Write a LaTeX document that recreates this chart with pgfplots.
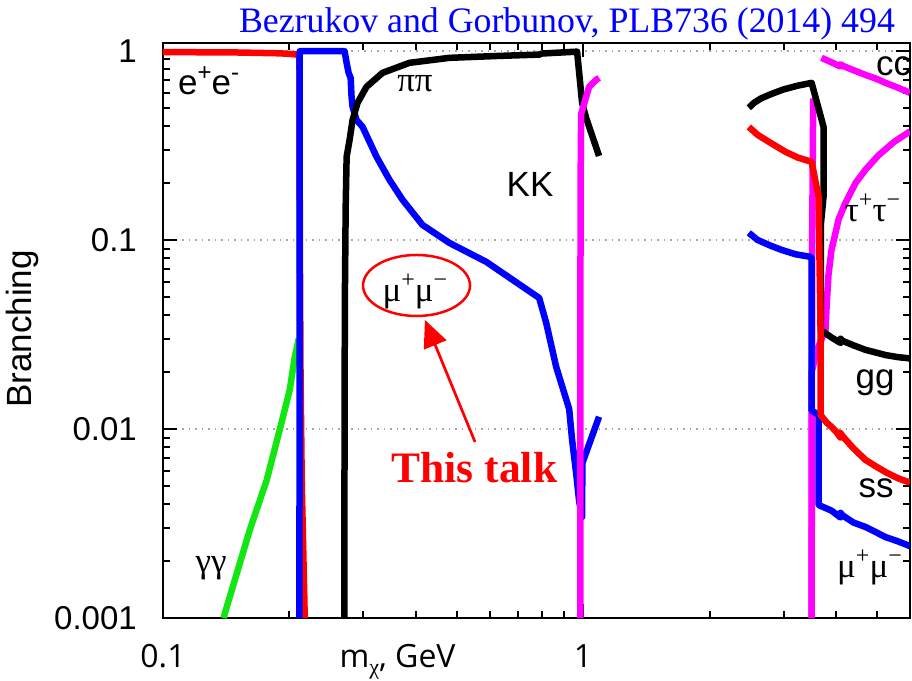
\documentclass[border=0pt]{standalone}
\usepackage{pgfplots}
\pgfplotsset{compat=1.18}
\usetikzlibrary{arrows.meta}
\usepackage{fontspec}
\setmainfont{Liberation Sans}
\newfontfamily\serif{Liberation Serif}
\newfontfamily\osans{Open Sans}

\definecolor{lgreen}{RGB}{20,230,20}
\definecolor{mag}{RGB}{255,0,255}
\definecolor{red}{RGB}{255,0,0}
\definecolor{blue}{RGB}{0,0,255}
\newcommand{\sps}[1]{\raisebox{0.4em}{\fontsize{24}{24}\selectfont #1}}
\newcommand{\lbl}{\fontsize{35}{40}\selectfont}

\pgfplotsset{cv/.style={no marks, line width=6.5pt, line join=round}}

\begin{document}
\begin{tikzpicture}
\begin{axis}[
  xmode=log, ymode=log,
  scale only axis, width=747pt, height=575pt,
  xmin=0.1, xmax=6, ymin=0.001, ymax=1.1,
  clip mode=individual,
  axis line style={line width=2pt},
  every tick/.style={black, line width=2pt},
  major tick length=14pt, minor tick length=7pt,
  tick pos=both, tick align=inside,
  xtick={0.1,1}, xticklabels={0.1,1},
  minor xtick={0.2,0.3,0.4,0.5,0.6,0.7,0.8,0.9,2,3,4,5},
  ytick={0.001,0.01,0.1,1}, yticklabels={0.001,0.01,0.1,1},
  minor ytick={0.002,0.003,0.004,0.005,0.006,0.007,0.008,0.009,
               0.02,0.03,0.04,0.05,0.06,0.07,0.08,0.09,
               0.2,0.3,0.4,0.5,0.6,0.7,0.8,0.9},
  ymajorgrids,
  major grid style={gray!70, line width=1.5pt, dash pattern=on 1.5pt off 5pt},
  xticklabel style={font=\osans\fontsize{32}{36}\selectfont, anchor=base, yshift=-49pt, inner sep=0pt},
  yticklabel style={font=\fontsize{33}{36}\selectfont, anchor=east, xshift=-26pt, inner sep=0pt},
]
% gamma gamma
\addplot[cv, lgreen] coordinates {(0.1395,0.001) (0.1404,0.00106) (0.1609,0.00292) (0.1766,0.00537) (0.1896,0.00988) (0.2003,0.0161) (0.2059,0.024) (0.2105,0.03)};
% e+ e-
\addplot[cv, red] coordinates {(0.1,0.985) (0.15,0.98) (0.19,0.97) (0.205,0.96) (0.2105,0.95) (0.2113,0.9) (0.2117,0.1) (0.2125,0.02) (0.214,0.005) (0.2175,0.001)};
% mu+ mu- below 1 GeV
\addplot[cv, blue] coordinates {(0.2113,0.001) (0.2114,0.5) (0.2116,0.995) (0.2706,0.995) (0.2736,0.864) (0.2766,0.765) (0.2797,0.72) (0.2811,0.571) (0.2827,0.505) (0.2889,0.431) (0.2986,0.396) (0.3224,0.275) (0.3461,0.2077) (0.3717,0.163) (0.4147,0.120) (0.4805,0.0964) (0.5884,0.0765) (0.7863,0.0493) (0.8169,0.0364) (0.8628,0.0213) (0.9264,0.01276) (0.9416,0.00875) (0.9625,0.00585) (0.9784,0.00416) (0.9945,0.00342) (0.996,0.0066) (1.0915,0.0116)};
% pi pi
\addplot[cv, black] coordinates {(0.2702,0.001) (0.2705,0.01) (0.271,0.05) (0.2722,0.15) (0.2736,0.275) (0.2781,0.338) (0.2827,0.431) (0.2905,0.531) (0.3051,0.645) (0.3332,0.765) (0.3861,0.864) (0.4805,0.918) (0.631,0.94) (0.7863,0.955) (0.80,0.968) (0.9677,0.99) (0.9945,0.531) (1.0166,0.442) (1.0915,0.278)};
% K K
\addplot[cv, mag] coordinates {(0.985,0.001) (0.9852,0.01) (0.9856,0.05) (0.9862,0.15) (0.9875,0.3) (0.9896,0.464) (1.0334,0.645) (1.0738,0.702) (1.0915,0.72)};
% tau+ tau-
\addplot[cv, mag] coordinates {(3.50,0.001) (3.50,0.02) (3.60,0.026) (3.70,0.03) (3.776,0.0334) (3.80,0.045) (3.839,0.0655) (3.90,0.088) (4.0,0.112) (4.055,0.128) (4.2,0.155) (4.452,0.2) (4.7,0.235) (5.047,0.28) (5.5,0.33) (6.0,0.375)};
% heavy-quark threshold line
\addplot[cv, mag] coordinates {(3.499,0.001) (3.51,0.1) (3.53,0.56)};
% g g
\addplot[cv, black] coordinates {(2.480,0.4995) (2.55,0.53) (2.65,0.56) (2.8,0.59) (3.0,0.625) (3.25,0.655) (3.499,0.677) (3.736,0.396) (3.736,0.17) (3.68,0.12) (3.68,0.0326) (3.736,0.0326) (3.9,0.0305) (4.10,0.0285) (4.10,0.0300) (4.14,0.0293) (4.4,0.0277) (4.701,0.0262) (5.0,0.0253) (5.245,0.0246) (5.6,0.024) (6.0,0.0236)};
% mu+ mu- above 2 GeV
\addplot[cv, blue] coordinates {(2.480,0.109) (2.6,0.1) (2.8,0.093) (2.970,0.0885) (3.2,0.084) (3.480,0.0813) (3.50,0.08) (3.50,0.0125) (3.635,0.0119) (3.635,0.00396) (3.9,0.0037) (4.10,0.0034) (4.10,0.0036) (4.14,0.0035) (4.4,0.0032) (4.701,0.00303) (5.0,0.00283) (5.245,0.00268) (5.6,0.00255) (6.0,0.0024)};
% s s
\addplot[cv, red] coordinates {(2.480,0.396) (2.6,0.36) (2.8,0.325) (3.035,0.292) (3.25,0.272) (3.499,0.259) (3.635,0.169) (3.675,0.0334) (3.675,0.01186) (3.8,0.0108) (3.903,0.01025) (4.0,0.0097) (4.10,0.0090) (4.10,0.0095) (4.14,0.0092) (4.4,0.0079) (4.701,0.00686) (5.0,0.0063) (5.245,0.00592) (5.6,0.0055) (6.0,0.0052)};
% c c
\addplot[cv, mag] coordinates {(3.695,0.918) (3.9,0.87) (4.10,0.826) (4.10,0.85) (4.14,0.835) (4.4,0.79) (4.701,0.746) (5.0,0.71) (5.245,0.677) (5.6,0.64) (6.0,0.60)};

\coordinate (ax-sw) at (rel axis cs:0,0);
\coordinate (ax-ne) at (rel axis cs:1,1);

% channel labels
\node[anchor=base west, font=\lbl, inner sep=0pt] at (rel axis cs:0.0201,0.9096) {e\sps{+}e\sps{-}};
\node[anchor=base, font=\serif\lbl, inner sep=0pt] at (rel axis cs:0.3373,0.9148) {ππ};
\node[anchor=base, font=\lbl, inner sep=0pt] at (rel axis cs:0.4913,0.7339) {KK};
\node[anchor=base, font=\serif\lbl, inner sep=0pt] at (rel axis cs:0.0643,0.0783) {γγ};
\node[anchor=base, font=\serif\lbl, inner sep=0pt] at (rel axis cs:0.3373,0.5496) {μ\sps{+}μ\sps{−}};
\node[anchor=base, font=\serif\lbl, inner sep=0pt] at (rel axis cs:0.9498,0.6887) {τ\sps{+}τ\sps{−}};
\node[anchor=base west, font=\lbl, inner sep=0pt] at (rel axis cs:0.9545,0.9443) {cc};
\node[anchor=base, font=\lbl, inner sep=0pt] at (rel axis cs:0.9532,0.4) {gg};
\node[anchor=base, font=\lbl, inner sep=0pt] at (rel axis cs:0.9545,0.2104) {ss};
\node[anchor=base, font=\serif\lbl, inner sep=0pt] at (rel axis cs:0.9458,0.0696) {μ\sps{+}μ\sps{−}};

% highlighted channel
\draw[red, line width=2.5pt] (rel axis cs:0.3394,0.5783) ellipse [x radius=53.5pt, y radius=30.5pt];
\draw[red, line width=2.7pt, -{Triangle[length=27pt, width=24pt]}] (rel axis cs:0.4177,0.3061) -- (rel axis cs:0.3507,0.5183);
\node[anchor=base, font=\serif\bfseries\fontsize{43.5}{48}\selectfont, text=red, inner sep=0pt] at (rel axis cs:0.4170,0.2365) {This talk};

% title and axis labels
\node[anchor=base, font=\serif\fontsize{35.8}{40}\selectfont, text=blue, inner sep=0pt] at (rel axis cs:0.5408,1.0191) {Bezrukov and Gorbunov, PLB736 (2014) 494};
\node[anchor=base, font=\osans\fontsize{32}{36}\selectfont, inner sep=0pt] at (rel axis cs:0.314,-0.0852) {m\lower7pt\hbox{\fontsize{22}{22}\selectfont\serif χ}, GeV};
\node[rotate=90, font=\fontsize{35}{40}\selectfont, inner sep=0pt] at (rel axis cs:-0.1888,0.5026) {Branching};
\end{axis}
\pgfresetboundingbox
\path[use as bounding box] ([shift={(-163pt,-62pt)}]ax-sw) rectangle ([shift={(2pt,43pt)}]ax-ne);
\end{tikzpicture}
\end{document}
